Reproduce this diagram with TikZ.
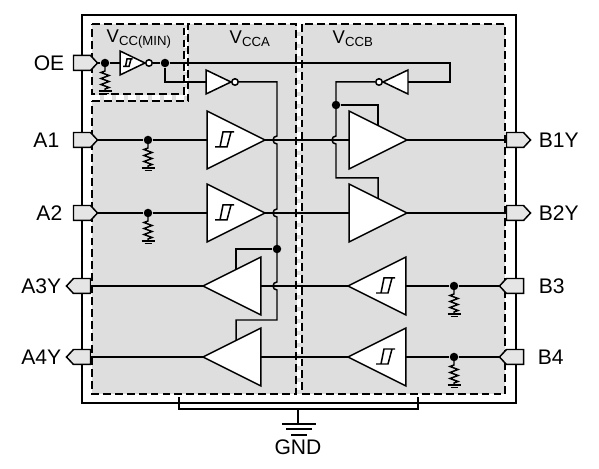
\documentclass[tikz,border=0pt]{standalone}
\usepackage{fontspec}
\setmainfont{Liberation Sans}
\usepackage{xcolor}
\usetikzlibrary{shapes.geometric,shapes.symbols,calc}
\definecolor{chipgray}{gray}{0.87}
\definecolor{pingray}{gray}{0.90}
\newcommand{\supplylabel}[1]{\fontsize{10.5}{12}\selectfont V\raisebox{-1.3pt}{\fontsize{7.5}{9}\selectfont #1}}

\begin{document}
\begin{tikzpicture}[x=0.02cm, y=-0.02cm, line width=0.85pt,
  dot/.style={circle, fill=black, inner sep=0pt, minimum size=0.17cm},
  bubble/.style={circle, draw, fill=white, inner sep=0pt, minimum size=0.13cm},
  buf/.style={isosceles triangle, isosceles triangle stretches, draw, fill=white, inner sep=0pt, outer sep=0pt, minimum width=1.16cm, minimum height=1.16cm},
  inv/.style={isosceles triangle, isosceles triangle stretches, draw, fill=white, inner sep=0pt, outer sep=0pt, minimum width=0.48cm, minimum height=0.5cm},
  pinout/.style={signal, signal to=east, signal pointer angle=94, draw, fill=pingray, inner sep=0pt, outer sep=0pt, minimum width=0.48cm, minimum height=0.3cm},
  pinin/.style={signal, signal to=west, signal pointer angle=94, draw, fill=pingray, inner sep=0pt, outer sep=0pt, minimum width=0.48cm, minimum height=0.3cm},
  pinlabel/.style={inner sep=0pt, font=\fontsize{12}{14}\selectfont},
  region/.style={line width=0.85pt, dash pattern=on 4.5pt off 2.3pt},
  gapline/.style={white, line width=2.4pt, dash pattern=on 4.5pt off 2.3pt},
  pics/schmitt/.style={code={
    \draw (-10,7) -- (2,7) -- (6,-8) (-5,7) -- (-2,-8) -- (9,-8);
  }},
  pics/pulldown/.style={code={
    \draw (0,0) -- (0,8) -- (-4,9.5) -- (4,12.5) -- (-4,15.5) -- (4,18.5) -- (-4,21.5) -- (4,24.5) -- (0,26) -- (0,28);
    \draw (-6.5,28) -- (6.5,28) (-3.5,30.5) -- (3.5,30.5);
  }}]
\useasboundingbox (0,0) rectangle (599,469);

%--- Chip outline and supply regions ---
\fill[chipgray] (92,24) rectangle (505,394);
\draw[gapline] (299,24) -- (299,394);
\draw[gapline] (92,97.5) -- (186,97.5) -- (186,24);
\draw[line width=1.2pt] (82,15) rectangle (516,403);
\draw[region] (92,24) -- (184,24) -- (184,94) -- (92,94) -- cycle;
\draw[region] (92,101) -- (188,101) -- (188,24) -- (296,24) -- (296,394) -- (92,394) -- cycle;
\draw[region] (302,24) rectangle (505,394);

\node[inner sep=0pt, anchor=base west] (vccmin) at (106,43) {\supplylabel{CC(MIN)}};
\node[inner sep=0pt, anchor=base west] (vcca) at (229,44) {\supplylabel{CCA}};
\node[inner sep=0pt, anchor=base west] (vccb) at (332,44) {\supplylabel{CCB}};

%--- Buffers ---
\node[inv, anchor=apex] (OEinv) at (145,63) {};
\node[bubble] (OEbub) at (149,63) {};
\node[inv, anchor=apex] (ENAinv) at (231,82) {};
\node[bubble] (ENAbub) at (235,82) {};
\node[inv, shape border rotate=180, anchor=apex] (ENBinv) at (383,82) {};
\node[bubble] (ENBbub) at (379,82) {};

\node[buf, anchor=apex] (A1buf) at (265,140) {};
\node[buf, anchor=apex] (A2buf) at (265,213) {};
\node[buf, anchor=apex] (B1buf) at (407,140) {};
\node[buf, anchor=apex] (B2buf) at (407,213) {};
\node[buf, shape border rotate=180, anchor=apex] (A3buf) at (203,286) {};
\node[buf, shape border rotate=180, anchor=apex] (A4buf) at (203,357) {};
\node[buf, shape border rotate=180, anchor=apex] (B3buf) at (348,286) {};
\node[buf, shape border rotate=180, anchor=apex] (B4buf) at (348,357) {};

% Hysteresis marks
\pic[scale=0.5] at (128,63) {schmitt};
\pic at (225,140) {schmitt};
\pic at (225,213) {schmitt};
\pic at (386,286) {schmitt};
\pic at (386,357) {schmitt};

%--- Pins ---
\node[pinout] (OEpin) at (82,63) {};
\node[pinout] (A1pin) at (82,140) {};
\node[pinout] (A2pin) at (82,213) {};
\node[pinin] (A3pin) at (82,286) {};
\node[pinin] (A4pin) at (82,357) {};
\node[pinout] (B1pin) at (515,140) {};
\node[pinout] (B2pin) at (515,213) {};
\node[pinin] (B3pin) at (515,286) {};
\node[pinin] (B4pin) at (515,357) {};

\node[pinlabel, anchor=east] (OElabel) at (65,63) {OE};
\node[pinlabel, anchor=east] (A1label) at (60,140) {A1};
\node[pinlabel, anchor=east] (A2label) at (63,213) {A2};
\node[pinlabel, anchor=east] (A3label) at (62,286) {A3Y};
\node[pinlabel, anchor=east] (A4label) at (62,357) {A4Y};
\node[pinlabel, anchor=west] (B1label) at (538,140) {B1Y};
\node[pinlabel, anchor=west] (B2label) at (538,213) {B2Y};
\node[pinlabel, anchor=west] (B3label) at (538,286) {B3};
\node[pinlabel, anchor=west] (B4label) at (537,357) {B4};

%--- Junctions ---
\node[dot] (OEdot) at (105,63) {};
\node[dot] (OEsplit) at (165,63) {};
\node[dot] (A1dot) at (148,140) {};
\node[dot] (A2dot) at (148,213) {};
\node[dot] (B3dot) at (454,286) {};
\node[dot] (B4dot) at (454,357) {};
\node[dot] (ENAdot) at (277,249) {};
\node[dot] (ENBdot) at (336,105) {};

% Pull-down resistors
\pic at (OEdot) {pulldown};
\pic at (A1dot) {pulldown};
\pic at (A2dot) {pulldown};
\pic at (B3dot) {pulldown};
\pic at (B4dot) {pulldown};

%--- Signal paths ---
\draw (OEpin.east) -- (OEdot) -- (OEinv.lower side);
\draw (OEbub) -- (OEsplit);
\draw (OEsplit) -- (450,63) -- (450,82) -- (ENBinv.lower side);
\draw (OEsplit) |- (ENAinv.lower side);
\draw (A1pin.east) -- (A1dot) -- (A1buf.lower side);
\draw (A2pin.east) -- (A2dot) -- (A2buf.lower side);
\draw (A1buf.apex) -- (B1buf.lower side);
\draw (A2buf.apex) -- (B2buf.lower side);
\draw (B1buf.apex) -- (B1pin.west);
\draw (B2buf.apex) -- (B2pin.west);
\draw (A3pin.east) -- (A3buf.apex);
\draw (A4pin.east) -- (A4buf.apex);
\draw (A3buf.lower side) -- (B3buf.apex);
\draw (A4buf.lower side) -- (B4buf.apex);
\draw (B3buf.lower side) -- (B3dot) -- (B3pin.west);
\draw (B4buf.lower side) -- (B4dot) -- (B4pin.west);

% Enable rail on the A side, hopping over the data lines
\draw (ENAbub) -- (277,82) -- (277,136) arc[start angle=270, end angle=90, radius=4]
  -- (277,209) arc[start angle=270, end angle=90, radius=4]
  -- (277,282) arc[start angle=270, end angle=90, radius=4]
  -- (277,320) -| ($(A4buf.right corner)!0.43!(A4buf.apex)$);
\draw (ENAdot) -| ($(A3buf.right corner)!0.43!(A3buf.apex)$);

% Enable rail on the B side
\draw (ENBbub) -- (336,82) -- (336,136) arc[start angle=270, end angle=90, radius=4]
  -- (336,178) -| (B2buf.left side);
\draw (ENBdot) -| (B1buf.left side);

%--- Ground ---
\coordinate (GNDbar) at (298,409);
\node[pinlabel] (GNDlabel) at (298,447) {GND};
\draw (179,397) -- (179,409) -- (418,409) -- (418,397);
\draw (GNDbar) -- (298,424);
\draw (282,424) -- (316,424) (286,429) -- (312,429) (291,435) -- (307,435);
\end{tikzpicture}
\end{document}
